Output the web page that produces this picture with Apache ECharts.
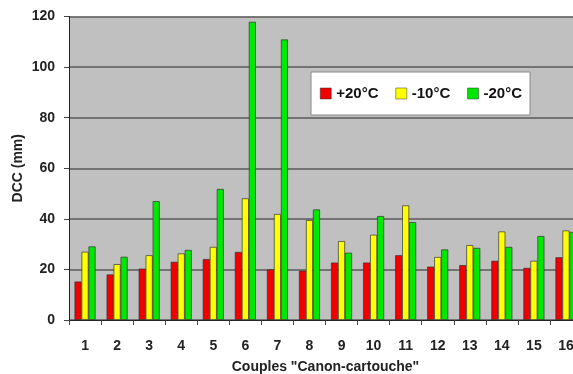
<!DOCTYPE html>
<html><head><meta charset="utf-8">
<script src="https://cdn.jsdelivr.net/npm/echarts@6/dist/echarts.min.js"></script>
<style>html,body{margin:0;padding:0;background:#fff}#c{width:573px;height:374px}</style>
</head><body><div id="c"></div>
<script>
const categories = ['1','2','3','4','5','6','7','8','9','10','11','12','13','14','15','16'];
const seriesNames = ['+20°C','-10°C','-20°C'];
const plus20 = [15.2,18.0,20.3,23.0,24.1,26.9,20.0,19.5,22.7,22.7,25.6,21.1,21.7,23.4,20.6,24.8];
const minus10 = [27.0,22.1,25.6,26.3,28.9,48.1,41.9,39.5,31.2,33.7,45.3,24.9,29.6,35.0,23.4,35.4];
const minus20 = [29.1,25.0,47.0,27.7,51.8,117.9,110.9,43.7,26.6,41.1,38.7,27.9,28.5,28.9,33.2,34.8];
const yTicks = [0,20,40,60,80,100,120];
const colors = ['#f00000','#ffff00','#00e800'];

const font = 'Liberation Sans, Arial, sans-serif';
const chart = echarts.init(document.getElementById('c'));
const dataSets = [plus20, minus10, minus20];
chart.setOption({
  animation: false,
  textStyle: {fontFamily: font},
  grid: {left: 69, width: 513, top: 16.5, bottom: 54, show: true, backgroundColor: '#c0c0c0', borderWidth: 0, outerBoundsMode: 'none', containLabel: false},
  legend: {
    left: 311, top: 72, width: 219, height: 40,
    backgroundColor: '#ffffff', borderColor: '#888', borderWidth: 1,
    padding: [14, 8, 14, 9],
    itemWidth: 11, itemHeight: 11, itemGap: 17,
    textStyle: {fontFamily: font, fontWeight: 'bold', fontSize: 15, color: '#111'},
    data: seriesNames.map((n, i) => ({name: n, icon: 'rect', itemStyle: {borderColor: '#333', borderWidth: 0.5}}))
  },
  xAxis: {
    type: 'category', data: categories,
    name: 'Couples "Canon-cartouche"', nameLocation: 'middle', nameGap: 40, nameMoveOverlap: false,
    nameTextStyle: {fontFamily: font, fontWeight: 'bold', fontSize: 14, color: '#222'},
    axisLine: {lineStyle: {color: '#222', width: 1}},
    axisTick: {show: true, length: 5, lineStyle: {color: '#444'}},
    axisLabel: {fontFamily: font, fontWeight: 'bold', fontSize: 14, color: '#222', margin: 19}
  },
  yAxis: {
    type: 'value', min: yTicks[0], max: yTicks[yTicks.length-1], interval: 20,
    name: 'DCC (mm)', nameLocation: 'middle', nameGap: 44, nameRotate: 90, nameMoveOverlap: false,
    nameTextStyle: {fontFamily: font, fontWeight: 'bold', fontSize: 14, color: '#222'},
    axisLine: {show: true, lineStyle: {color: '#222', width: 1}},
    axisTick: {show: true, length: 5, lineStyle: {color: '#444'}},
    axisLabel: {fontFamily: font, fontWeight: 'bold', fontSize: 14, color: '#222', margin: 14},
    splitLine: {lineStyle: {color: '#5a5a5a', width: 1.5}}
  },
  series: dataSets.map((d, i) => ({
    name: seriesNames[i], type: 'bar', data: d,
    barWidth: 7, barGap: '0%',
    itemStyle: {color: colors[i], borderColor: '#333', borderWidth: 0.7}
  }))
});
</script></body></html>
